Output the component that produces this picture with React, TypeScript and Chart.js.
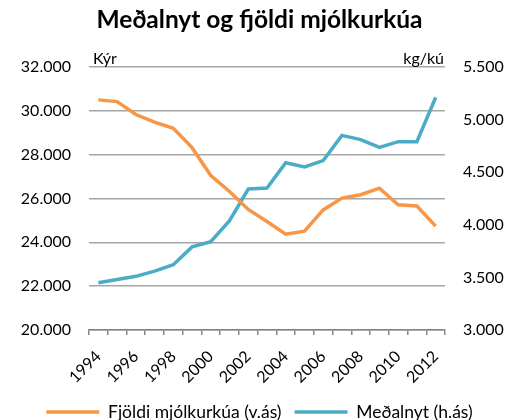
import React, { useEffect, useRef } from "react";
import { Chart, registerables } from "chart.js";

Chart.register(...registerables);

const years = ["1994","1995","1996","1997","1998","1999","2000","2001","2002","2003","2004","2005","2006","2007","2008","2009","2010","2011","2012"];
const cows = [30500, 30420, 29830, 29480, 29200, 28320, 27050, 26320, 25500, 24950, 24370, 24510, 25480, 26020, 26170, 26470, 25710, 25660, 24740];
const yieldPerCow = [3450, 3480, 3510, 3560, 3620, 3790, 3840, 4040, 4340, 4350, 4590, 4550, 4610, 4850, 4810, 4735, 4790, 4790, 5210];
const cowsLabel = "Fjöldi mjólkurkúa (v.ás)";
const yieldLabel = "Meðalnyt (h.ás)";
const titleText = "Meðalnyt og fjöldi mjólkurkúa";
const leftUnit = "Kýr";
const rightUnit = "kg/kú";

const FONT = "Lato, 'Open Sans', sans-serif";
const fmtThousands = (v: number) => {
  const s = Math.round(v).toString();
  return s.slice(0, s.length - 3) + "." + s.slice(s.length - 3);
};

const unitPlugin = {
  id: "unitLabels",
  afterDraw(chart: any) {
    const { ctx, chartArea } = chart;
    ctx.save();
    ctx.font = `16px ${FONT}`;
    ctx.fillStyle = "#000";
    ctx.textBaseline = "alphabetic";
    ctx.textAlign = "left";
    ctx.fillText(leftUnit, chartArea.left + 4, chartArea.top - 3);
    ctx.textAlign = "right";
    ctx.fillText(rightUnit, chartArea.right - 1, chartArea.top - 3);
    ctx.restore();
  },
};

export default function App() {
  const ref = useRef<HTMLCanvasElement>(null);
  useEffect(() => {
    if (!ref.current) return;
    const chart = new Chart(ref.current, {
      type: "line",
      data: {
        labels: years,
        datasets: [
          {
            label: cowsLabel,
            data: cows,
            borderColor: "#F79646",
            backgroundColor: "#F79646",
            borderWidth: 3.5,
            pointRadius: 0,
            tension: 0,
            yAxisID: "y",
          },
          {
            label: yieldLabel,
            data: yieldPerCow,
            borderColor: "#4BACC6",
            backgroundColor: "#4BACC6",
            borderWidth: 3.5,
            pointRadius: 0,
            tension: 0,
            yAxisID: "y1",
          },
        ],
      },
      options: {
        responsive: false,
        animation: false,
        layout: { padding: { left: 0, right: 0, top: 0, bottom: -10.75 } },
        plugins: {
          title: {
            display: true,
            text: titleText,
            color: "#000",
            font: { family: FONT, size: 24.5, weight: "bold" },
            padding: { top: 5.3, bottom: 32.3 },
          },
          legend: {
            position: "bottom",
            labels: {
              color: "#000",
              font: { family: FONT, size: 17.5 },
              usePointStyle: true,
              pointStyle: "line",
              pointStyleWidth: 53,
              boxHeight: 15,
              padding: 13,
            },
          },
          tooltip: { enabled: false },
        },
        scales: {
          x: {
            offset: true,
            grid: {
              display: true,
              drawOnChartArea: false,
              drawTicks: true,
              tickLength: 5,
              color: "#868686",
              lineWidth: 1.5,
              offset: true,
            },
            border: { display: true, color: "#868686", width: 1.5 },
            ticks: {
              autoSkip: false,
              minRotation: 45,
              maxRotation: 45,
              color: "#000",
              font: { family: FONT, size: 16 },
              padding: 12,
              callback: (_v: any, i: number) => (i % 2 === 0 ? years[i] : ""),
            },
            afterFit: (s: any) => {
              s.height = 60.25;
            },
          },
          y: {
            position: "left",
            min: 20000,
            max: 32000,
            grid: { color: "#A6A6A6", lineWidth: 1.5, drawTicks: false },
            border: { display: false },
            ticks: {
              stepSize: 2000,
              color: "#000",
              font: { family: FONT, size: 16 },
              padding: 18,
              callback: (v: any) => fmtThousands(Number(v)),
            },
            afterFit: (s: any) => {
              s.width = 89;
            },
          },
          y1: {
            position: "right",
            min: 3000,
            max: 5500,
            grid: { display: false, drawOnChartArea: false, drawTicks: false },
            border: { display: false },
            ticks: {
              stepSize: 500,
              color: "#000",
              font: { family: FONT, size: 16 },
              padding: 18,
              callback: (v: any) => fmtThousands(Number(v)),
            },
            afterFit: (s: any) => {
              s.width = 74;
            },
          },
        },
      },
      plugins: [unitPlugin],
    } as any);
    return () => chart.destroy();
  }, []);
  return (
    <div style={{ position: "fixed", left: 0, top: 0, width: 519, height: 420, background: "#fff" }}>
      <canvas ref={ref} width={519} height={420} style={{ width: 519, height: 420 }} />
    </div>
  );
}
